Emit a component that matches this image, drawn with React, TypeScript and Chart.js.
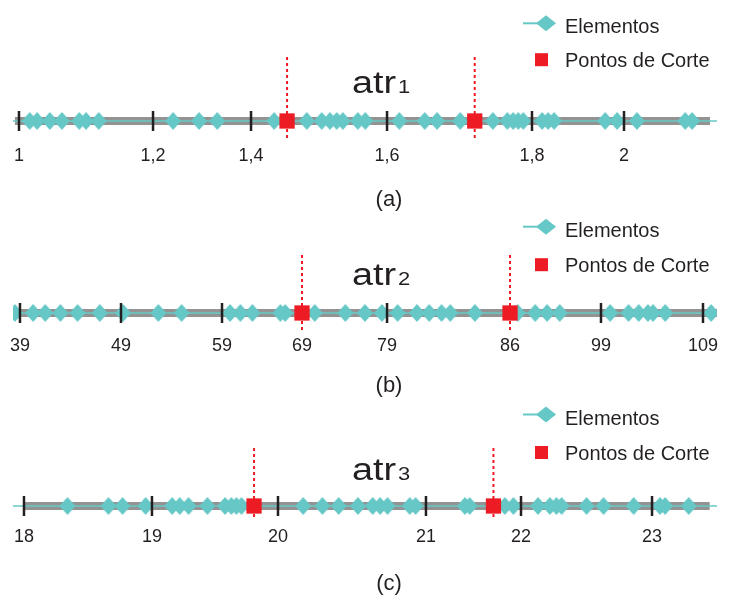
import React, { useEffect, useRef } from 'react';
import { Chart, LinearScale, registerables } from 'chart.js';

// ---------------- data ----------------
const legendLabels = ['Elementos', 'Pontos de Corte'];
const titleBase = 'atr';
const titleSubs = ['1', '2', '3'];
const captions = ['(a)', '(b)', '(c)'];

// panel (a)
const ticksA = [1, 1.2, 1.4, 1.6, 1.8, 2];
const tickLabelsA = ['1', '1,2', '1,4', '1,6', '1,8', '2'];
const elementsA = [1.016, 1.027, 1.046, 1.064, 1.09, 1.1, 1.119, 1.241, 1.294, 1.331, 1.434, 1.482, 1.504, 1.516, 1.526, 1.535, 1.557, 1.568, 1.617, 1.652, 1.669, 1.701, 1.746, 1.766, 1.774, 1.781, 1.788, 1.822, 1.835, 1.848, 1.959, 1.985, 2.028, 2.133, 2.148];
const cutsA = [1.453, 1.721];
const axisA = [0.991, 2.202];
const bandA = [0.994, 2.187];

// panel (b)
const ticksB = [39, 49, 59, 69, 79, 86, 99, 109];
const tickLabelsB = ['39', '49', '59', '69', '79', '86', '99', '109'];
const elementsB = [38.5, 40.3, 41.5, 43.0, 44.7, 46.9, 49.2, 52.7, 55.0, 60.0, 61.3, 62.8, 66.3, 66.9, 70.5, 74.1, 76.4, 78.4, 79.6, 80.7, 81.4, 82.1, 82.6, 84.0, 87.1, 89.6, 91.3, 93.1, 99.9, 101.7, 102.7, 103.6, 104.1, 105.3, 109.8];
const cutsB = [69, 86];
const axisB = [38.3, 110.4];
const bandB = [38.3, 110.4];

// panel (c)
const ticksC = [18, 19, 20, 21, 22, 23];
const tickLabelsC = ['18', '19', '20', '21', '22', '23'];
const elementsC = [18.34, 18.66, 18.77, 18.95, 19.16, 19.22, 19.29, 19.44, 19.58, 19.63, 19.67, 19.71, 20.17, 20.3, 20.41, 20.54, 20.64, 20.69, 20.74, 20.89, 20.93, 21.41, 21.46, 21.83, 21.92, 22.13, 22.22, 22.27, 22.31, 22.5, 22.63, 22.86, 23.06, 23.1, 23.28];
const cutsC = [19.81, 21.71];
const axisC = [17.91, 23.5];
const bandC = [18.0, 23.44];

// axis layout (fraction of the axis length where each tick sits; the axis is non-uniform)
const tickPosA = [0.0085, 0.1989, 0.3381, 0.5313, 0.7372, 0.8679];
const tickPosB = [0.0099, 0.1534, 0.2969, 0.4105, 0.5313, 0.706, 0.8352, 0.9801];
const tickPosC = [0.0156, 0.1974, 0.3764, 0.5866, 0.7216, 0.9077];

// ---------------- styles ----------------
const TEAL = '#66c8c6';
const RED = '#ed1c24';
const GRAY = '#939393';
const INK = '#231f20';
const FONT = '"Liberation Sans", Arial, Helvetica, sans-serif';

// ---------------- non-uniform scale ----------------
class PiecewiseScale extends LinearScale {
  static id = 'piecewise';
  static defaults = {};
  determineDataLimits() {
    const o: any = this.options;
    (this as any).min = o.min;
    (this as any).max = o.max;
  }
  buildTicks() {
    const o: any = this.options;
    return o.tickValues.map((v: number) => ({ value: v }));
  }
  toDecimal(v: number) {
    const o: any = this.options;
    const vals: number[] = o.anchorValues;
    const pos: number[] = o.anchorPositions;
    const n = vals.length;
    let i = 0;
    if (v >= vals[n - 1]) i = n - 2;
    else if (v > vals[0]) {
      while (i < n - 2 && v > vals[i + 1]) i++;
    }
    const t = (v - vals[i]) / (vals[i + 1] - vals[i]);
    return pos[i] + t * (pos[i + 1] - pos[i]);
  }
  getPixelForValue(v: number) {
    if (v === null || v === undefined) return NaN;
    return (this as any).getPixelForDecimal(this.toDecimal(v));
  }
  getValueForPixel(p: number) {
    const o: any = this.options;
    const vals: number[] = o.anchorValues;
    const pos: number[] = o.anchorPositions;
    const d = (this as any).getDecimalForPixel(p);
    const n = pos.length;
    let i = 0;
    if (d >= pos[n - 1]) i = n - 2;
    else if (d > pos[0]) {
      while (i < n - 2 && d > pos[i + 1]) i++;
    }
    const t = (d - pos[i]) / (pos[i + 1] - pos[i]);
    return vals[i] + t * (vals[i + 1] - vals[i]);
  }
}

Chart.register(...registerables, PiecewiseScale as any);

type Panel = {
  top: number;
  height: number;
  line: number;
  ticks: number[];
  tickLabels: string[];
  tickPos: number[];
  elements: number[];
  cuts: number[];
  axis: number[];
  band: number[];
  sub: string;
  caption: string;
  legendY: number[];
  titleY: number;
  captionY: number;
  cutTop: number;
  cutBottom: number;
  tickPad: number;
};

const PANELS: Panel[] = [
  { top: 0, height: 215, line: 121, ticks: ticksA, tickLabels: tickLabelsA, tickPos: tickPosA, elements: elementsA, cuts: cutsA, axis: axisA, band: bandA, sub: titleSubs[0], caption: captions[0], legendY: [-87.7, -54.3], titleY: -28.3, captionY: 84.5, cutTop: -64, cutBottom: 17, tickPad: 10 },
  { top: 215, height: 185, line: 98, ticks: ticksB, tickLabels: tickLabelsB, tickPos: tickPosB, elements: elementsB, cuts: cutsB, axis: axisB, band: bandB, sub: titleSubs[1], caption: captions[1], legendY: [-76.3, -41.3], titleY: -28, captionY: 79, cutTop: -58, cutBottom: 17, tickPad: 8 },
  { top: 400, height: 199, line: 106, ticks: ticksC, tickLabels: tickLabelsC, tickPos: tickPosC, elements: elementsC, cuts: cutsC, axis: axisC, band: bandC, sub: titleSubs[2], caption: captions[2], legendY: [-81.5, -46.5], titleY: -26.5, captionY: 84, cutTop: -58, cutBottom: 14, tickPad: 6 },
];

function makeDiamond(w: number, h: number, color: string) {
  const c = document.createElement('canvas');
  c.width = w;
  c.height = h;
  const g = c.getContext('2d')!;
  g.fillStyle = color;
  g.beginPath();
  g.moveTo(w / 2, 0);
  g.lineTo(w, h / 2);
  g.lineTo(w / 2, h);
  g.lineTo(0, h / 2);
  g.closePath();
  g.fill();
  return c;
}

function makeChart(canvas: HTMLCanvasElement, p: Panel) {
  const HALF = 14;
  const AXIS_H = 30;
  const diamond = makeDiamond(16, 18, TEAL);

  const overlay = {
    id: 'overlay',
    beforeDatasetsDraw(chart: any) {
      const ctx = chart.ctx;
      const xs = chart.scales.x;
      const yc = chart.scales.y.getPixelForValue(0);
      ctx.save();
      ctx.strokeStyle = RED;
      ctx.lineWidth = 2;
      ctx.setLineDash([3, 3]);
      for (const c of p.cuts) {
        const px = xs.getPixelForValue(c);
        ctx.beginPath();
        ctx.moveTo(px, yc + p.cutTop);
        ctx.lineTo(px, yc + p.cutBottom);
        ctx.stroke();
      }
      ctx.restore();
    },
    afterDatasetsDraw(chart: any) {
      const ctx = chart.ctx;
      const xs = chart.scales.x;
      const yc = chart.scales.y.getPixelForValue(0);
      ctx.save();
      ctx.strokeStyle = INK;
      ctx.lineWidth = 2.5;
      for (const t of p.ticks) {
        if (p.cuts.includes(t)) continue;
        const px = xs.getPixelForValue(t);
        ctx.beginPath();
        ctx.moveTo(px, yc - 10);
        ctx.lineTo(px, yc + 10);
        ctx.stroke();
      }
      ctx.restore();
    },
    afterDraw(chart: any) {
      const ctx = chart.ctx;
      const yc = chart.scales.y.getPixelForValue(0);
      ctx.save();
      // legend
      const dsE = chart.data.datasets[1];
      const dsC = chart.data.datasets[0];
      const y1 = yc + p.legendY[0];
      const y2 = yc + p.legendY[1];
      const sy1 = y1 - 10;
      ctx.strokeStyle = TEAL;
      ctx.lineWidth = 2;
      ctx.beginPath();
      ctx.moveTo(523, sy1);
      ctx.lineTo(555, sy1);
      ctx.stroke();
      ctx.fillStyle = TEAL;
      ctx.beginPath();
      ctx.moveTo(546, sy1 - 8);
      ctx.lineTo(556, sy1);
      ctx.lineTo(546, sy1 + 8);
      ctx.lineTo(536, sy1);
      ctx.closePath();
      ctx.fill();
      ctx.fillStyle = RED;
      ctx.fillRect(535, y2 - 7 - 6.5, 13, 13);
      ctx.fillStyle = INK;
      ctx.font = '20px ' + FONT;
      ctx.textAlign = 'left';
      ctx.textBaseline = 'alphabetic';
      ctx.fillText(dsE.label, 565, y1);
      ctx.fillText(dsC.label, 565, y2);
      // title with subscript
      ctx.save();
      ctx.translate(352, yc + p.titleY);
      ctx.scale(1.22, 1);
      ctx.font = '31px ' + FONT;
      ctx.fillText(titleBase, 0, 0);
      const w = ctx.measureText(titleBase).width;
      ctx.font = '18px ' + FONT;
      ctx.fillText(p.sub, w + 1.5, 0);
      ctx.restore();
      // caption
      ctx.font = '22px ' + FONT;
      ctx.textAlign = 'center';
      ctx.fillText(p.caption, 389, yc + p.captionY);
      ctx.restore();
    },
  };

  return new Chart(canvas, {
    type: 'scatter',
    data: {
      datasets: [
        {
          label: legendLabels[1],
          data: p.cuts.map((v) => ({ x: v, y: 0 })),
          pointStyle: 'rect',
          pointRadius: 10.8,
          pointBorderWidth: 0,
          pointBackgroundColor: RED,
          order: 0,
        },
        {
          label: legendLabels[0],
          data: p.elements.map((v) => ({ x: v, y: 0 })),
          pointStyle: diamond,
          pointRadius: 8,
          pointBorderWidth: 0,
          pointBackgroundColor: TEAL,
          order: 1,
        },
        {
          label: '',
          data: p.axis.map((v) => ({ x: v, y: 0 })),
          showLine: true,
          borderColor: TEAL,
          borderWidth: 1.5,
          pointRadius: 0,
          order: 2,
        },
        {
          label: '',
          data: p.band.map((v) => ({ x: v, y: 0 })),
          showLine: true,
          borderColor: GRAY,
          borderWidth: 8,
          borderCapStyle: 'butt',
          pointRadius: 0,
          order: 3,
        },
      ] as any,
    },
    options: {
      animation: false,
      responsive: false,
      maintainAspectRatio: false,
      events: [],
      layout: {
        padding: {
          top: p.line - HALF,
          bottom: p.height - (p.line + HALF) - AXIS_H,
          left: 13,
          right: 12,
        },
      },
      plugins: { legend: { display: false }, tooltip: { enabled: false }, title: { display: false } },
      scales: {
        x: {
          type: 'piecewise',
          min: p.axis[0],
          max: p.axis[1],
          tickValues: p.ticks,
          anchorValues: p.ticks,
          anchorPositions: p.tickPos,
          grid: { display: false, drawTicks: false },
          border: { display: false },
          ticks: {
            autoSkip: false,
            maxRotation: 0,
            minRotation: 0,
            padding: p.tickPad,
            color: INK,
            font: { family: FONT, size: 18 },
            callback: (_v: any, i: number) => p.tickLabels[i],
          },
          afterFit: (s: any) => {
            s.height = AXIS_H;
          },
        },
        y: { type: 'linear', display: false, min: -1, max: 1 },
      } as any,
    },
    plugins: [overlay],
  } as any);
}

export default function App() {
  const refs = useRef<(HTMLCanvasElement | null)[]>([]);
  useEffect(() => {
    const charts = PANELS.map((p, i) => makeChart(refs.current[i]!, p));
    return () => charts.forEach((c) => c.destroy());
  }, []);
  return (
    <div style={{ position: 'absolute', left: 0, top: 0, width: 729, height: 599, background: '#fff' }}>
      {PANELS.map((p, i) => (
        <canvas
          key={i}
          ref={(el) => {
            refs.current[i] = el;
          }}
          width={729}
          height={p.height}
          style={{ position: 'absolute', left: 0, top: p.top, width: 729, height: p.height }}
        />
      ))}
    </div>
  );
}
